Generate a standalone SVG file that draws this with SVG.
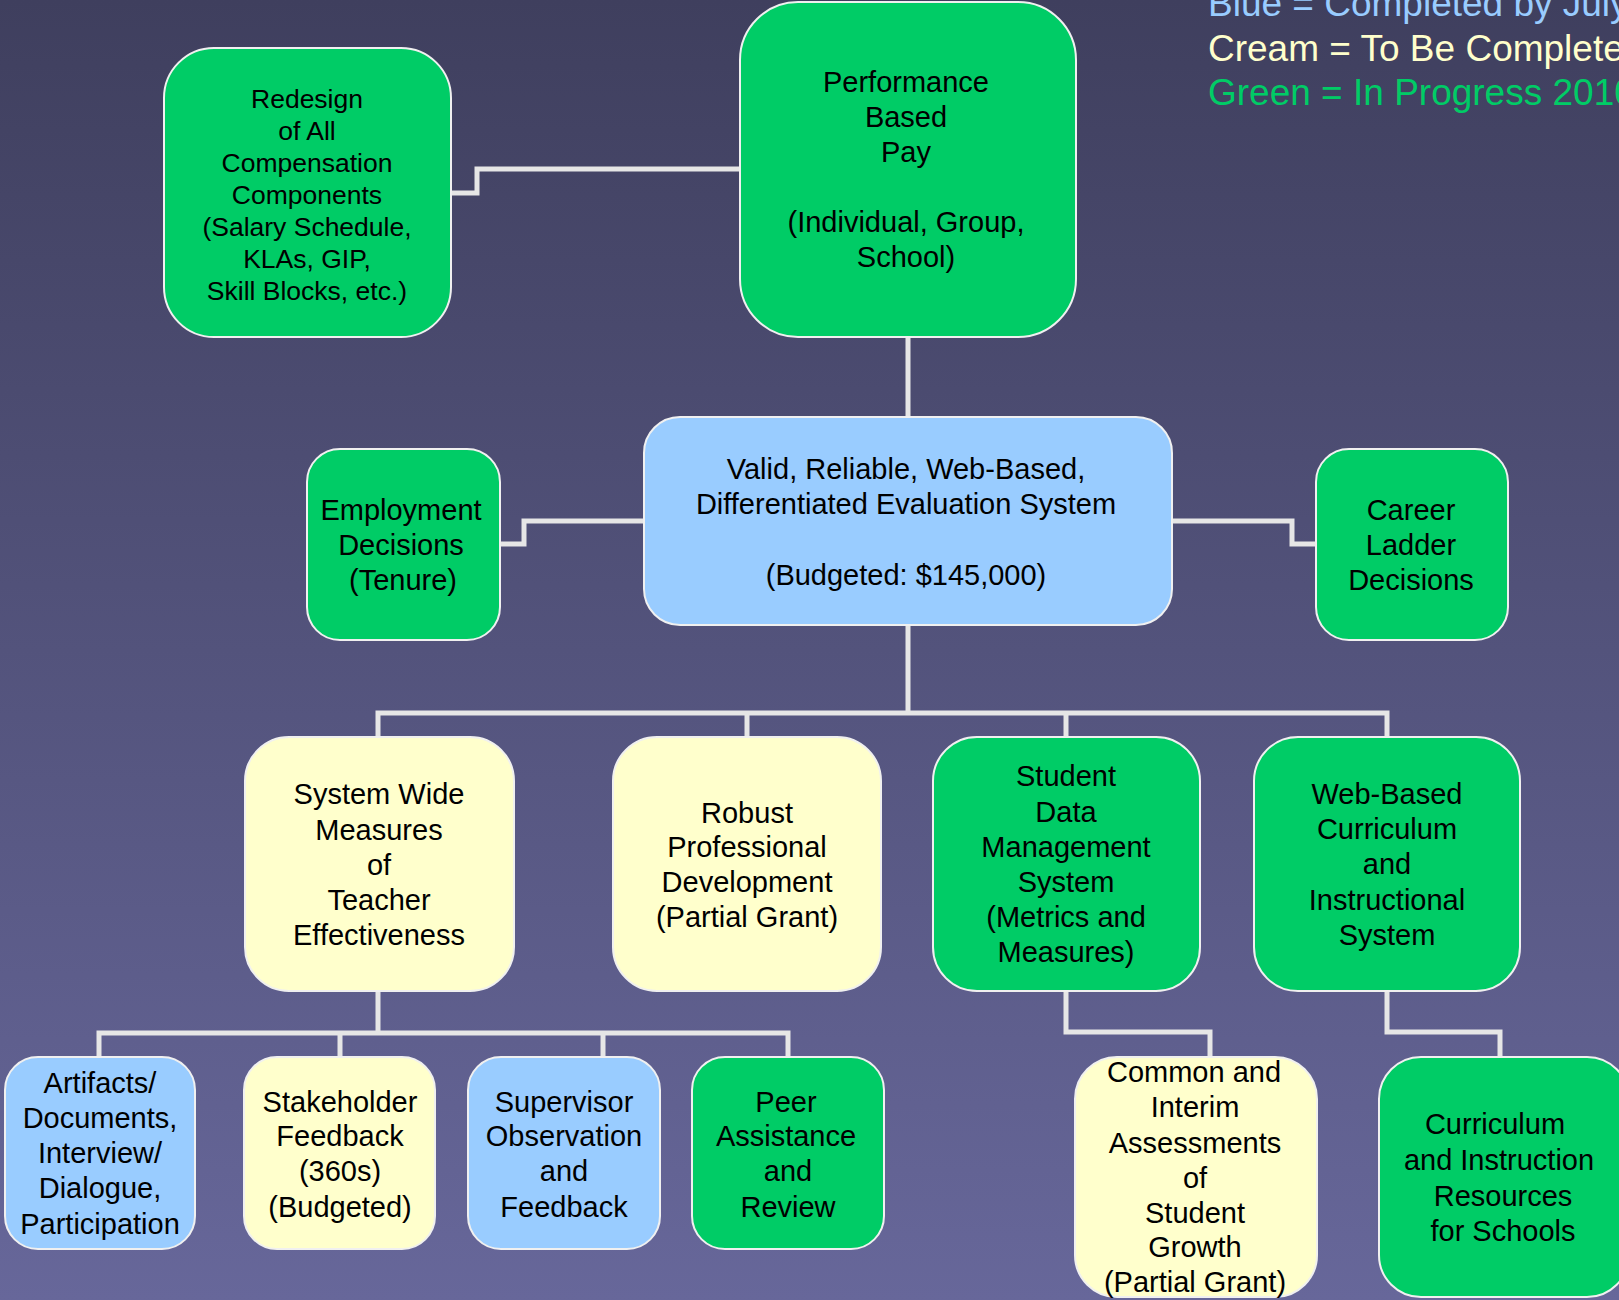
<svg xmlns="http://www.w3.org/2000/svg" width="1619" height="1300" viewBox="0 0 1619 1300">
<defs>
<linearGradient id="bg" x1="0" y1="0" x2="0" y2="1">
<stop offset="0" stop-color="#3f3f5e"/>
<stop offset="1" stop-color="#67679a"/>
</linearGradient>
<style>
.g{fill:#00cc66;stroke:#f0f0f0;stroke-width:2}
.b{fill:#99ccff;stroke:#f0f0f0;stroke-width:2}
.c{fill:#ffffcc;stroke:#f0f0f0;stroke-width:2}
text{font-family:"Liberation Sans",Arial,sans-serif;font-size:29px;fill:#000;text-anchor:middle}
.sm{font-size:26.5px}
.lg{font-size:37px;text-anchor:start}
.conn{fill:none;stroke:#e6e6e6;stroke-width:5}
</style>
</defs>
<rect x="0" y="0" width="1619" height="1300" fill="url(#bg)"/>

<g id="legend">
<text class="lg" x="1208" y="16" style="fill:#99ccff">Blue = Completed by July</text>
<text class="lg" x="1208" y="61" style="fill:#ffffcc">Cream = To Be Completed</text>
<text class="lg" x="1208" y="105" style="fill:#00cc66">Green = In Progress 2010</text>
</g>

<g id="connectors">
<polyline class="conn" points="451,193 477,193 477,169 740,169"/>
<line class="conn" x1="908" y1="337" x2="908" y2="417"/>
<polyline class="conn" points="500,544 524,544 524,521 644,521"/>
<polyline class="conn" points="1172,521 1292,521 1292,544 1316,544"/>
<line class="conn" x1="908" y1="625" x2="908" y2="713"/>
<polyline class="conn" points="378,737 378,713 1387,713 1387,737"/>
<line class="conn" x1="747" y1="713" x2="747" y2="737"/>
<line class="conn" x1="1066" y1="713" x2="1066" y2="737"/>
<line class="conn" x1="378" y1="991" x2="378" y2="1033"/>
<polyline class="conn" points="99,1057 99,1033 788,1033 788,1057"/>
<line class="conn" x1="340" y1="1033" x2="340" y2="1057"/>
<line class="conn" x1="603" y1="1033" x2="603" y2="1057"/>
<polyline class="conn" points="1066,991 1066,1032 1210,1032 1210,1057"/>
<polyline class="conn" points="1387,991 1387,1032 1500,1032 1500,1057"/>
</g>

<g id="pbp">
<rect class="g" x="740" y="2" width="336" height="335" rx="58"/>
<text x="906" y="92">Performance</text>
<text x="906" y="127">Based</text>
<text x="906" y="162">Pay</text>
<text x="906" y="232">(Individual, Group,</text>
<text x="906" y="267">School)</text>
</g>

<g id="redesign">
<rect class="g" x="164" y="48" width="287" height="289" rx="50"/>
<text class="sm" x="307" y="107.5">Redesign</text>
<text class="sm" x="307" y="139.5">of All</text>
<text class="sm" x="307" y="171.5">Compensation</text>
<text class="sm" x="307" y="203.5">Components</text>
<text class="sm" x="307" y="235.5">(Salary Schedule,</text>
<text class="sm" x="307" y="267.5">KLAs, GIP,</text>
<text class="sm" x="307" y="299.5">Skill Blocks, etc.)</text>
</g>

<g id="evaluation">
<rect class="b" x="644" y="417" width="528" height="208" rx="36"/>
<text x="906" y="479">Valid, Reliable, Web-Based,</text>
<text x="906" y="514">Differentiated Evaluation System</text>
<text x="906" y="585">(Budgeted: $145,000)</text>
</g>

<g id="employment">
<rect class="g" x="307" y="449" width="193" height="191" rx="33"/>
<text x="401" y="520">Employment</text>
<text x="401" y="555">Decisions</text>
<text x="403" y="590">(Tenure)</text>
</g>

<g id="career">
<rect class="g" x="1316" y="449" width="192" height="191" rx="33"/>
<text x="1411" y="520">Career</text>
<text x="1411" y="555">Ladder</text>
<text x="1411" y="590">Decisions</text>
</g>

<g id="systemwide">
<rect class="c" x="245" y="737" width="269" height="254" rx="44"/>
<text x="379" y="804">System Wide</text>
<text x="379" y="840">Measures</text>
<text x="379" y="875">of</text>
<text x="379" y="910">Teacher</text>
<text x="379" y="945">Effectiveness</text>
</g>

<g id="robust">
<rect class="c" x="613" y="737" width="268" height="254" rx="44"/>
<text x="747" y="823">Robust</text>
<text x="747" y="857">Professional</text>
<text x="747" y="892">Development</text>
<text x="747" y="927">(Partial Grant)</text>
</g>

<g id="studentdata">
<rect class="g" x="933" y="737" width="267" height="254" rx="44"/>
<text x="1066" y="786">Student</text>
<text x="1066" y="822">Data</text>
<text x="1066" y="857">Management</text>
<text x="1066" y="892">System</text>
<text x="1066" y="927">(Metrics and</text>
<text x="1066" y="962">Measures)</text>
</g>

<g id="webcurriculum">
<rect class="g" x="1254" y="737" width="266" height="254" rx="44"/>
<text x="1387" y="804">Web-Based</text>
<text x="1387" y="839">Curriculum</text>
<text x="1387" y="874">and</text>
<text x="1387" y="910">Instructional</text>
<text x="1387" y="945">System</text>
</g>

<g id="artifacts">
<rect class="b" x="5" y="1057" width="190" height="192" rx="33"/>
<text x="100" y="1093">Artifacts/</text>
<text x="100" y="1128">Documents,</text>
<text x="100" y="1163">Interview/</text>
<text x="100" y="1198">Dialogue,</text>
<text x="100" y="1234">Participation</text>
</g>

<g id="stakeholder">
<rect class="c" x="244" y="1057" width="191" height="192" rx="33"/>
<text x="340" y="1112">Stakeholder</text>
<text x="340" y="1146">Feedback</text>
<text x="340" y="1181">(360s)</text>
<text x="340" y="1217">(Budgeted)</text>
</g>

<g id="supervisor">
<rect class="b" x="468" y="1057" width="192" height="192" rx="33"/>
<text x="564" y="1112">Supervisor</text>
<text x="564" y="1146">Observation</text>
<text x="564" y="1181">and</text>
<text x="564" y="1217">Feedback</text>
</g>

<g id="peer">
<rect class="g" x="692" y="1057" width="192" height="192" rx="33"/>
<text x="786" y="1112">Peer</text>
<text x="786" y="1146">Assistance</text>
<text x="788" y="1181">and</text>
<text x="788" y="1217">Review</text>
</g>

<g id="assessments">
<rect class="c" x="1075" y="1057" width="242" height="240" rx="42"/>
<text x="1194" y="1082">Common and</text>
<text x="1195" y="1117">Interim</text>
<text x="1195" y="1153">Assessments</text>
<text x="1195" y="1188">of</text>
<text x="1195" y="1223">Student</text>
<text x="1195" y="1257">Growth</text>
<text x="1195" y="1292">(Partial Grant)</text>
</g>

<g id="resources">
<rect class="g" x="1379" y="1057" width="250" height="240" rx="42"/>
<text x="1495" y="1134">Curriculum</text>
<text x="1499" y="1170">and Instruction</text>
<text x="1503" y="1206">Resources</text>
<text x="1503" y="1241">for Schools</text>
</g>
</svg>
